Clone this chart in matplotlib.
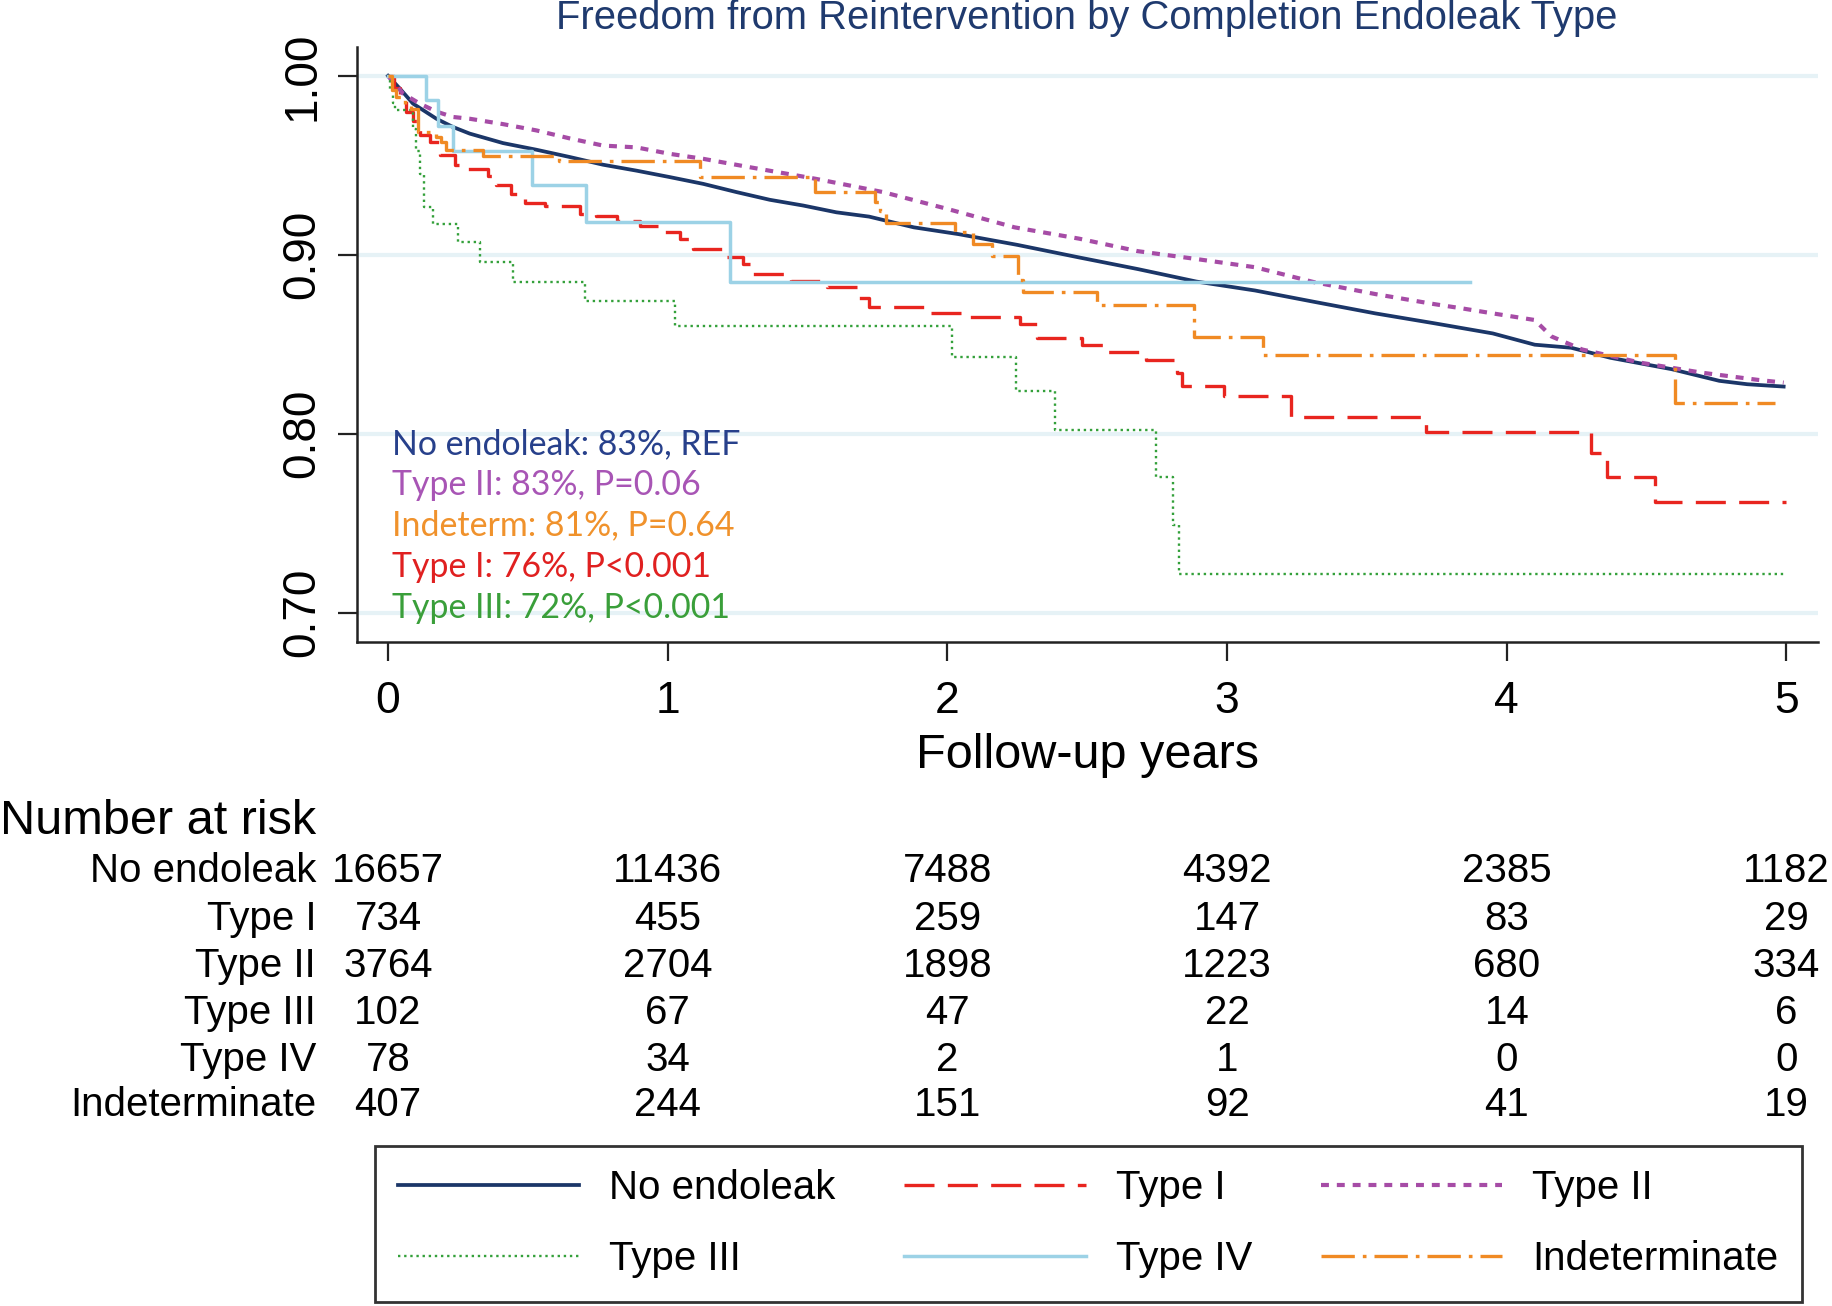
import matplotlib.pyplot as plt
import matplotlib.transforms as mtransforms

# --- data ---
years = [0, 1, 2, 3, 4, 5]
ytick_vals = [0.70, 0.80, 0.90, 1.00]

# No endoleak (many small steps -> drawn as a line)
noleak_t = [0, 0.042, 0.089, 0.173, 0.232, 0.292, 0.411, 0.53, 0.65, 0.769, 0.888,
            1.007, 1.127, 1.246, 1.365, 1.484, 1.603, 1.72, 1.88, 2.04, 2.25, 2.47,
            2.68, 2.89, 3.10, 3.31, 3.53, 3.74, 3.95, 4.10, 4.23, 4.37, 4.59, 4.76,
            4.86, 4.99]
noleak_s = [1.0, 0.9929, 0.9845, 0.976, 0.9714, 0.9677, 0.9624, 0.9587, 0.9546, 0.9503,
            0.947, 0.9434, 0.9396, 0.935, 0.9307, 0.9275, 0.9237, 0.9213, 0.9153, 0.9115,
            0.9055, 0.8985, 0.892, 0.885, 0.880, 0.8737, 0.8672, 0.8617, 0.856, 0.8497,
            0.848, 0.8424, 0.836, 0.8295, 0.8276, 0.8263]

# Type II (many small steps -> drawn as a line)
type2_t = [0, 0.054, 0.113, 0.173, 0.232, 0.292, 0.411, 0.53, 0.65, 0.769, 0.888,
           1.007, 1.127, 1.29, 1.53, 1.77, 2.0, 2.24, 2.47, 2.68, 2.89, 3.10, 3.31,
           3.53, 3.74, 3.84, 3.95, 4.10, 4.16, 4.27, 4.48, 4.70, 4.90, 4.99]
type2_s = [1.0, 0.990, 0.9845, 0.980, 0.977, 0.976, 0.973, 0.9695, 0.965, 0.961, 0.960,
           0.9564, 0.9536, 0.949, 0.9424, 0.935, 0.9256, 0.9153, 0.909, 0.902, 0.8976,
           0.893, 0.8847, 0.878, 0.8724, 0.870, 0.8672, 0.8635, 0.8543, 0.847, 0.8396,
           0.834, 0.830, 0.8285]

# Type I (steps)
type1_t = [0, 0.02, 0.042, 0.065, 0.089, 0.113, 0.15, 0.185, 0.238, 0.28, 0.358, 0.387,
           0.441, 0.489, 0.56, 0.686, 0.745, 0.82, 0.90, 0.985, 1.044, 1.09, 1.20, 1.27,
           1.30, 1.44, 1.57, 1.68, 1.72, 1.92, 2.074, 2.26, 2.32, 2.48, 2.56, 2.71, 2.82,
           2.84, 2.99, 3.23, 3.71, 4.30, 4.36, 4.53, 5.0]
type1_s = [1.0, 0.993, 0.986, 0.980, 0.975, 0.967, 0.963, 0.956, 0.950, 0.948, 0.944,
           0.939, 0.934, 0.929, 0.927, 0.923, 0.9215, 0.919, 0.916, 0.9125, 0.9088,
           0.9032, 0.8985, 0.895, 0.8893, 0.8854, 0.8817, 0.876, 0.8708, 0.8673, 0.8654,
           0.861, 0.8534, 0.8497, 0.8457, 0.841, 0.834, 0.8267, 0.8212, 0.8092, 0.801,
           0.789, 0.776, 0.762, 0.762]

# Type III (steps)
type3_t = [0, 0.008, 0.016, 0.024, 0.089, 0.10, 0.113, 0.13, 0.161, 0.25, 0.328, 0.447,
           0.703, 1.025, 2.017, 2.244, 2.386, 2.746, 2.806, 2.827, 4.99]
type3_s = [1.0, 0.992, 0.985, 0.981, 0.970, 0.958, 0.945, 0.9265, 0.917, 0.907, 0.896,
           0.885, 0.874, 0.860, 0.843, 0.8236, 0.8018, 0.776, 0.749, 0.7217, 0.7217]

# Type IV (steps)
type4_t = [0, 0.135, 0.179, 0.232, 0.515, 0.709, 1.222, 3.87]
type4_s = [1.0, 0.9867, 0.972, 0.958, 0.939, 0.9185, 0.885, 0.885]

# Indeterminate (steps)
indet_t = [0, 0.015, 0.03, 0.06, 0.083, 0.107, 0.173, 0.19, 0.209, 0.34, 0.61, 1.116,
           1.527, 1.742, 1.76, 1.78, 2.028, 2.093, 2.16, 2.253, 2.27, 2.535, 2.88, 3.13,
           4.60, 4.96]
indet_s = [1.0, 0.992, 0.988, 0.984, 0.9817, 0.9686, 0.966, 0.963, 0.9587, 0.955, 0.9523,
           0.9437, 0.935, 0.9293, 0.9247, 0.918, 0.9125, 0.906, 0.8994, 0.886, 0.879,
           0.872, 0.854, 0.844, 0.817, 0.817]

risk_groups = ["No endoleak", "Type I", "Type II", "Type III", "Type IV", "Indeterminate"]
risk_noleak = [16657, 11436, 7488, 4392, 2385, 1182]
risk_type1 = [734, 455, 259, 147, 83, 29]
risk_type2 = [3764, 2704, 1898, 1223, 680, 334]
risk_type3 = [102, 67, 47, 22, 14, 6]
risk_type4 = [78, 34, 2, 1, 0, 0]
risk_indet = [407, 244, 151, 92, 41, 19]

notes = ["No endoleak: 83%, REF", "Type II: 83%, P=0.06", "Indeterm: 81%, P=0.64",
         "Type I: 76%, P<0.001", "Type III: 72%, P<0.001"]

# --- colours ---
c_noleak = "#1b3668"
c_type1 = "#e8251f"
c_type2 = "#a64ca6"
c_type3 = "#33a03a"
c_type4 = "#9cd2e6"
c_indet = "#f08a24"
note_colors = ["#27408b", "#a855b5", "#f0922c", "#e02020", "#3a9f3a"]

plt.rcParams['font.family'] = ['Liberation Sans', 'DejaVu Sans']

fig = plt.figure(figsize=(18.33, 13.06), dpi=100)
ax = fig.add_axes([0.1945, 0.5084, 0.7975, 0.4556])

for v in ytick_vals:
    ax.axhline(v, color="#e6f2f6", lw=3, zorder=0)

l_noleak, = ax.plot(noleak_t, noleak_s, color=c_noleak, lw=2.7, label="No endoleak")
l_type1, = ax.step(type1_t, type1_s, where="post", color=c_type1, lw=2.4,
                   dashes=(9, 4), label="Type I")
l_type2, = ax.plot(type2_t, type2_s, color=c_type2, lw=3.0, dashes=(1.9, 1.9),
                   label="Type II")
l_type3, = ax.step(type3_t, type3_s, where="post", color=c_type3, lw=1.7,
                   dashes=(1, 1.6), label="Type III")
l_type4, = ax.step(type4_t, type4_s, where="post", color=c_type4, lw=2.5, label="Type IV")
l_indet, = ax.step(indet_t, indet_s, where="post", color=c_indet, lw=2.4,
                   dashes=(10, 2.4, 1.1, 2.4), label="Indeterminate")

ax.set_xlim(-0.1127, 5.114)
ax.set_ylim(0.6835, 1.0161)
ax.set_xticks(years)
ax.set_xticklabels([str(y) for y in years], fontsize=32)
ax.set_yticks(ytick_vals)
ax.set_yticklabels(["%.2f" % v for v in ytick_vals], fontsize=33, rotation=90, va="center")
ax.tick_params(axis="both", direction="out", length=14, width=1.6, colors="#222222",
               labelcolor="black")
ax.tick_params(axis="x", pad=14)
ax.tick_params(axis="y", pad=9)
for s in ["top", "right"]:
    ax.spines[s].set_visible(False)
for s in ["left", "bottom"]:
    ax.spines[s].set_linewidth(1.8)
    ax.spines[s].set_color("#222222")

ax.set_xlabel("Follow-up years", fontsize=35, va="center")
ax.xaxis.set_label_coords(0.5, -0.19)

fig.text(0.593, 0.9862, "Freedom from Reintervention by Completion Endoleak Type",
         fontsize=28.8, color="#1f3a6e", ha="center", va="center")

# annotation block
note_y = [0.333, 0.264, 0.197, 0.126, 0.057]
for txt, col, yy in zip(notes, note_colors, note_y):
    ax.text(0.0243, yy, txt, transform=ax.transAxes, color=col, fontsize=24.4,
            family=["Lato", "DejaVu Sans"], va="center", ha="left")

# number at risk table
fig.text(0.0, 0.3710, "Number at risk", fontsize=35, ha="left", va="center")
row_y = [0.3327, 0.2967, 0.2600, 0.2241, 0.1882, 0.1537]
rows = [risk_noleak, risk_type1, risk_type2, risk_type3, risk_type4, risk_indet]
blend = mtransforms.blended_transform_factory(ax.transData, fig.transFigure)
for name, vals, yy in zip(risk_groups, rows, row_y):
    fig.text(0.1724, yy, name, fontsize=29, ha="right", va="center")
    for x, v in zip(years, vals):
        fig.text(x, yy, str(v), transform=blend, fontsize=29, ha="center", va="center")

# legend
handles = [l_noleak, l_type3, l_type1, l_type4, l_type2, l_indet]
leg = fig.legend(handles=handles, labels=[h.get_label() for h in handles], ncol=3,
                 loc="center", bbox_to_anchor=(0.5936, 0.0630), borderaxespad=0,
                 fontsize=29, handlelength=4.5, handletextpad=0.75, columnspacing=1.7,
                 labelspacing=0.82, borderpad=0.58, fancybox=False, frameon=True)
leg.get_frame().set_edgecolor("black")
leg.get_frame().set_linewidth(2.0)

fig.savefig("out.png", dpi=100)
